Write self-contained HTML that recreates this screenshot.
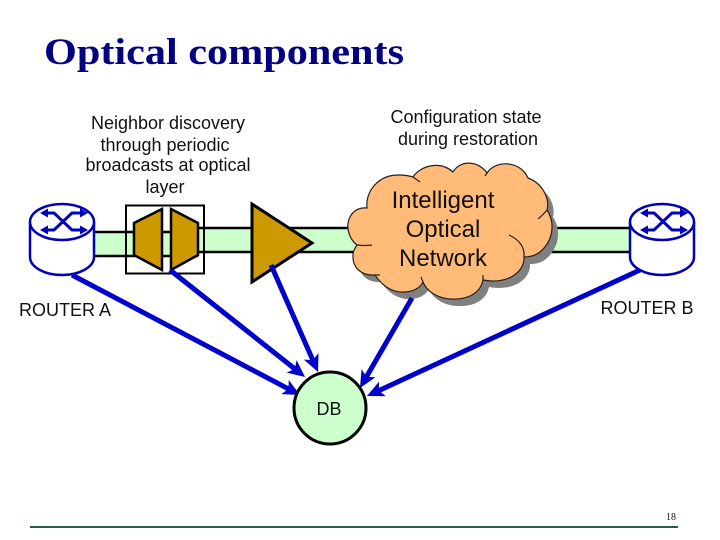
<!DOCTYPE html>
<html><head><meta charset="utf-8"><style>html,body{margin:0;padding:0;background:#fff}svg{display:block}text{font-family:"Liberation Sans",sans-serif;fill:#111}</style></head>
<body>
<svg width="720" height="540" viewBox="0 0 720 540" xmlns="http://www.w3.org/2000/svg">
<defs>
<marker id="a" markerUnits="userSpaceOnUse" markerWidth="20" markerHeight="20" refX="5" refY="8" orient="auto"><path d="M0,0L17,8L0,16L4,8Z" fill="#0000cc"/></marker>
<path id="c" d="M357,245 C350,240 347,230 348,223 C350,212 358,207 367,208 C365,192 378,175 398,175 C405,175 410,176 413,177 C420,166 440,160 453,172 C460,160 478,160 487,173 C495,160 520,160 528,178 C542,183 550,198 547,210 C555,222 554,240 540,252 C535,256 530,257 524,257 C525,270 510,285 483,280 C480,295 465,300 450,299 C438,298 427,292 423,282 C418,292 402,295 390,289 C384,286 378,280 375,275 C362,276 352,268 353,255 C353,251 355,248 357,245 Z"/>
</defs>
<text x="44" y="64" style="font-family:'Liberation Serif',serif;font-weight:bold;font-size:37px;fill:#000080" textLength="360" lengthAdjust="spacingAndGlyphs">Optical components</text>
<g font-size="18" text-anchor="middle">
<text x="168" y="129">Neighbor discovery</text><text x="165" y="151">through periodic</text><text x="168" y="171">broadcasts at optical</text><text x="165" y="193">layer</text>
<text x="466" y="123">Configuration state</text><text x="468" y="145">during restoration</text>
<text x="65" y="316">ROUTER A</text><text x="647" y="314">ROUTER B</text>
</g>
<rect x="94" y="232" width="104" height="24" fill="#ccffcc"/>
<path d="M94,232H198M94,256H198" stroke="#000" stroke-width="2.500"/>
<rect x="198" y="228" width="431" height="24" fill="#ccffcc"/>
<path d="M198,228H629M198,252H629" stroke="#000" stroke-width="2.500"/>
<rect x="126" y="205.500" width="78" height="68" fill="none" stroke="#000" stroke-width="2"/>
<path d="M134,223L162,209V270L134,255Z M171,209L198,223V255L171,270Z" fill="#cc9900" stroke="#000" stroke-width="2.500"/>
<path d="M252,204L312,243L252,282Z" fill="#cc9900" stroke="#000" stroke-width="3"/>
<g id="ra" fill="none" stroke="#0000bb" stroke-width="2.500">
<path d="M30,222V257A32,18 0 0 0 94,257V222" fill="#fff"/><ellipse cx="62" cy="222" rx="32" ry="18" fill="#fff"/>
<path d="M44,213H54L72,230H84M44,230H54L72,213H84" stroke-width="3"/>
<path d="M40,213l8,-4.500v9zM88,213l-8,-4.500v9zM40,230l8,-4.500v9zM88,230l-8,-4.500v9z" fill="#0000bb" stroke="none"/>
</g>
<use href="#ra" x="600"/>
<use href="#c" x="6" y="7" fill="#808080"/>
<use href="#c" fill="#ffbb77" stroke="#222" stroke-width="1.200"/>
<path d="M509,235C520,240 525,248 524,257M547,210Q543,215 538,219M357,245Q365,246 372,245M375,275H380M413,177L420,182M487,173L485,176M423,282L421,277M483,280L483,275" fill="none" stroke="#222" stroke-width="1.200"/>
<g font-size="24" text-anchor="middle"><text x="443" y="208">Intelligent</text><text x="443" y="237">Optical</text><text x="443" y="266">Network</text></g>
<g stroke="#0000cc" stroke-width="5" fill="none">
<path d="M72,275L289.400,389.400" marker-end="url(#a)"/>
<path d="M170,270L295.600,369.500" marker-end="url(#a)"/>
<path d="M271,265L313.200,361" marker-end="url(#a)"/>
<path d="M412,298L366,377.600" marker-end="url(#a)"/>
<path d="M640,270L377.900,391" marker-end="url(#a)"/>
</g>
<circle cx="330" cy="408" r="36" fill="#ccffcc" stroke="#000" stroke-width="3"/>
<text x="329" y="415" font-size="18" text-anchor="middle">DB</text>
<rect x="30" y="526" width="648" height="2" fill="#2d5a4a"/>
<text x="671" y="520" style="font-family:'Liberation Serif',serif;font-size:10px" text-anchor="middle">18</text>
</svg>
</body></html>
